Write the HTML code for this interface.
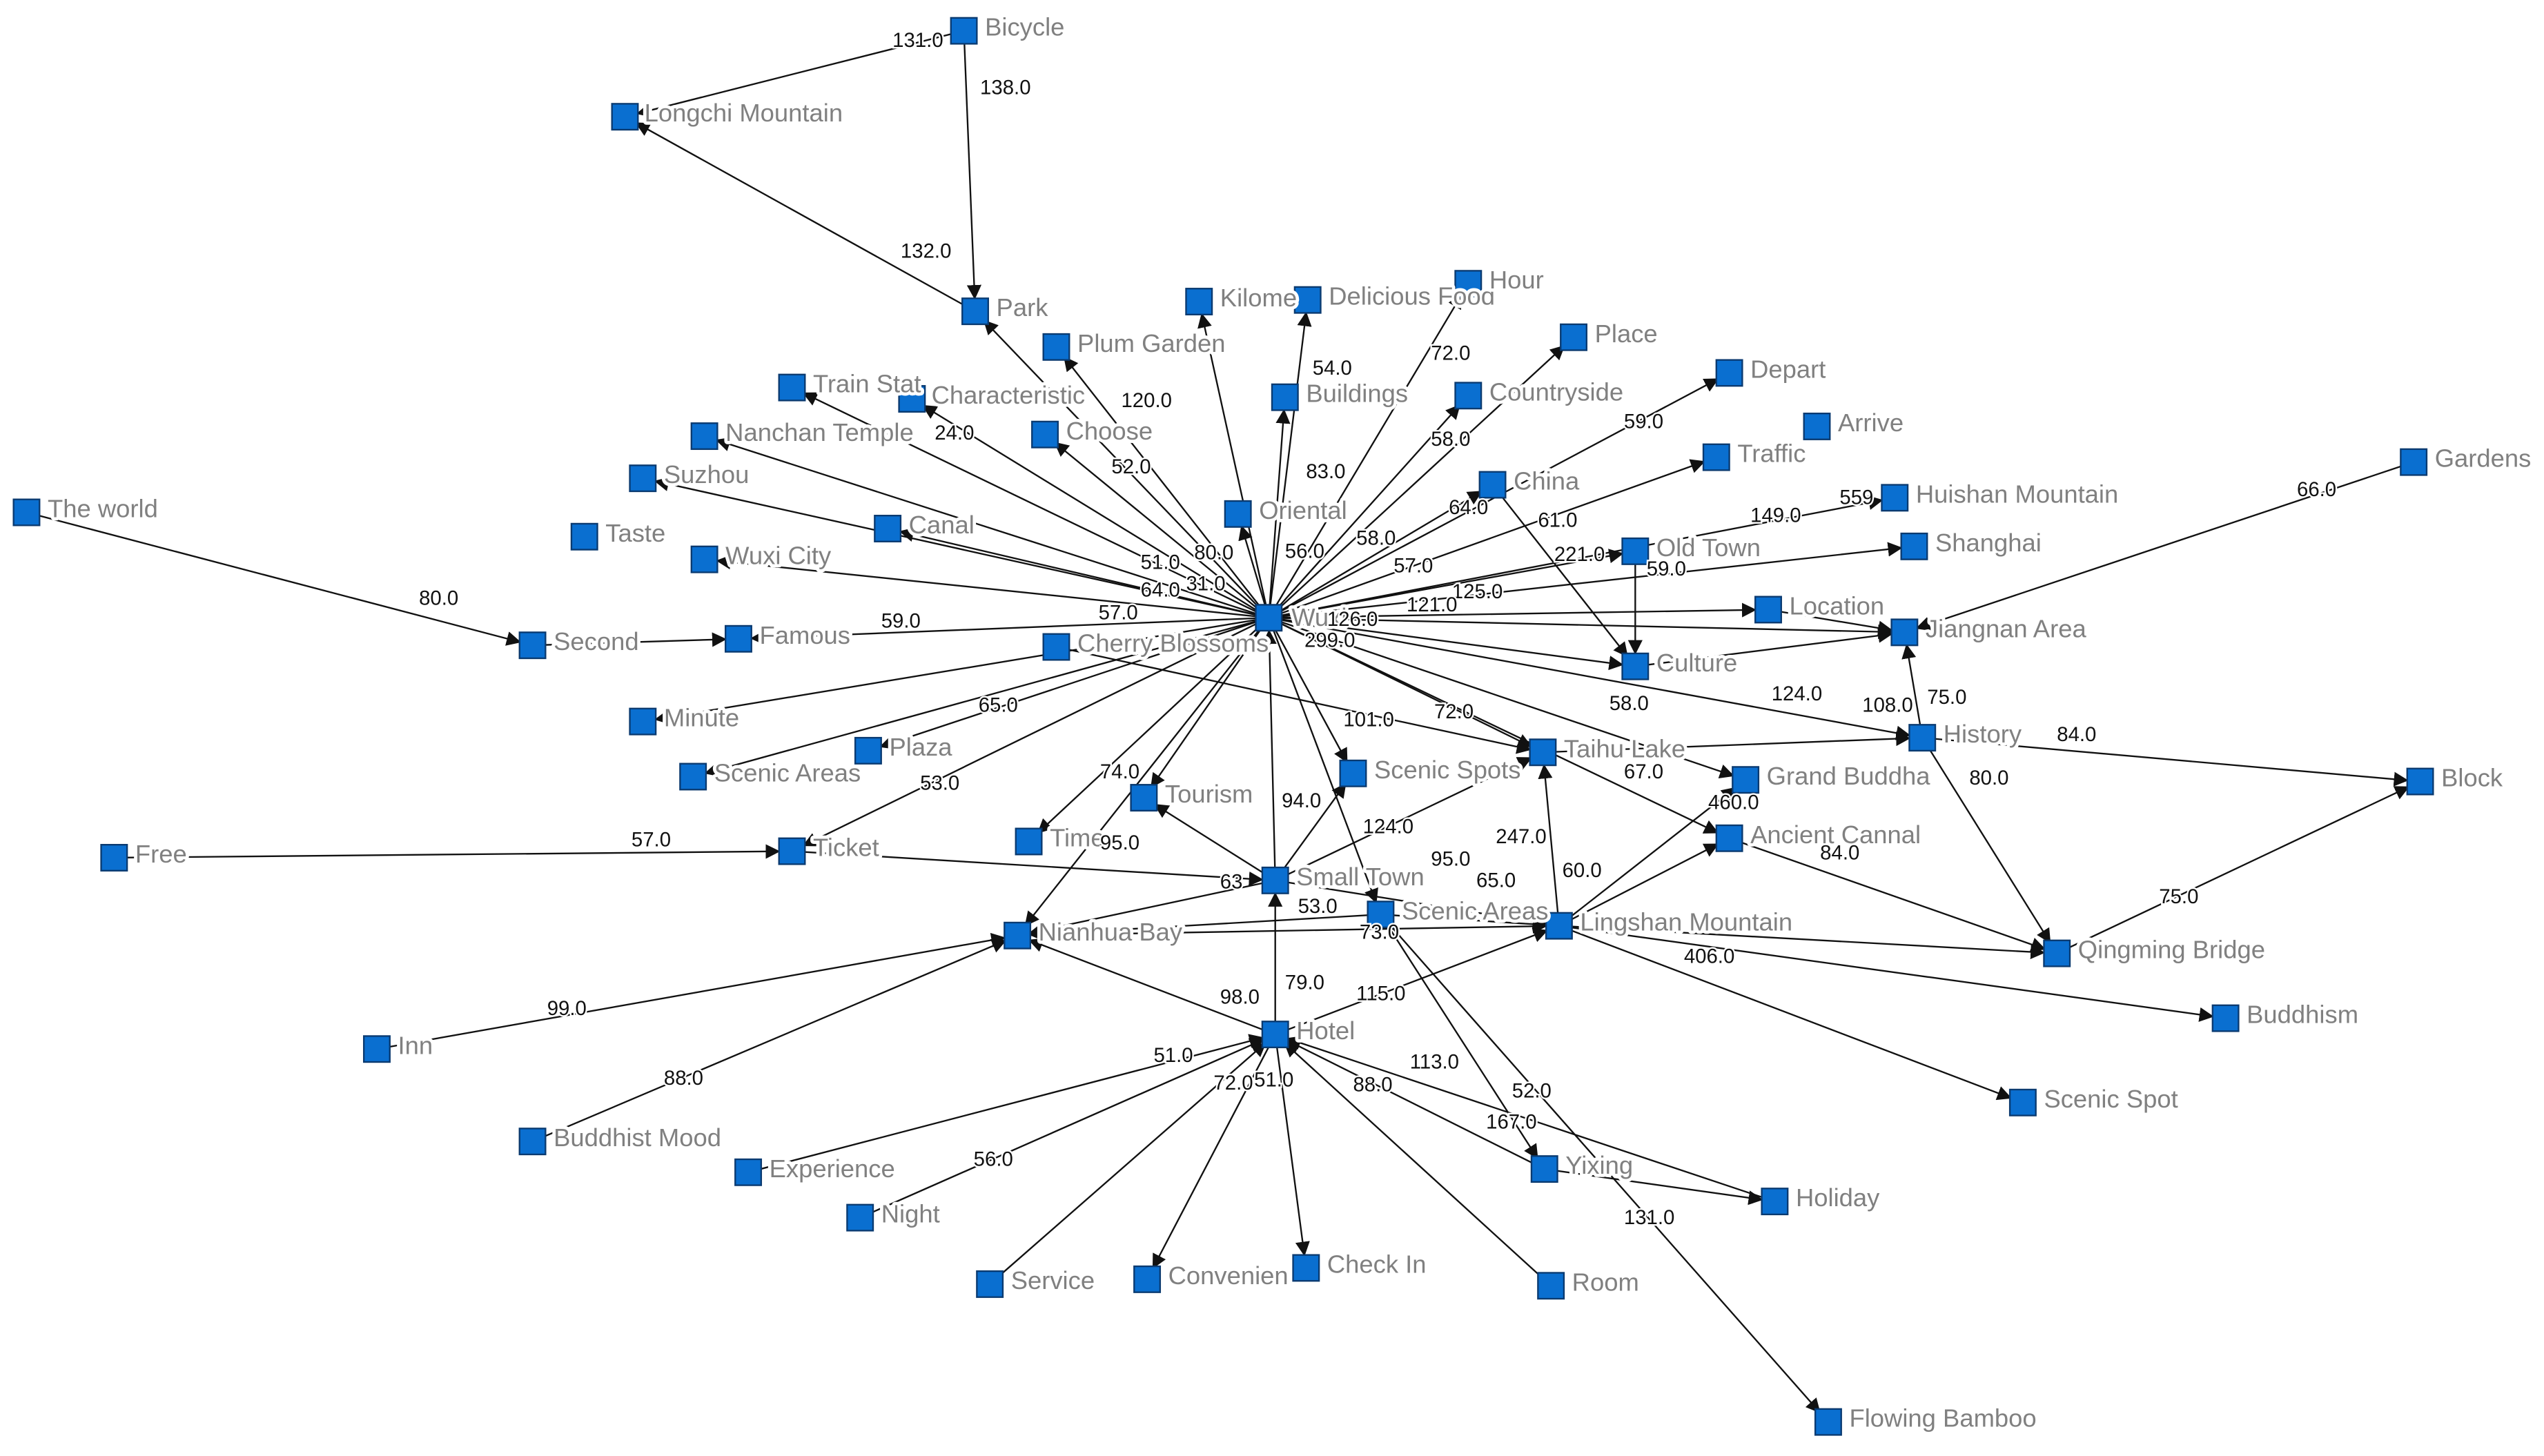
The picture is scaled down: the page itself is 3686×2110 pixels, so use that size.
<!DOCTYPE html>
<html><head><meta charset="utf-8"><style>
html,body{margin:0;padding:0;background:#fff;}
svg{display:block}
.n{fill:#0a6fd0;stroke:#0a3a70;stroke-width:1}
.t{font-family:"Liberation Sans",sans-serif;font-size:15.5px;fill:#808080;paint-order:stroke;stroke:#fff;stroke-width:4px;stroke-linejoin:round}
.e{font-family:"Liberation Sans",sans-serif;font-size:12.5px;fill:#111;paint-order:stroke;stroke:#fff;stroke-width:2px}
line{stroke:#111;stroke-width:1}
</style></head><body>
<svg width="3686" height="2110" viewBox="0 0 1568 898" xmlns="http://www.w3.org/2000/svg">
<defs><marker id="a" viewBox="0 0 10 10" refX="18" refY="5" markerWidth="9" markerHeight="9" orient="auto" markerUnits="userSpaceOnUse"><path d="M0,0L10,5L0,10z" fill="#111"/></marker></defs>
<g marker-end="url(#a)">
<line x1="594" y1="19" x2="385" y2="72"/>
<line x1="594" y1="19" x2="601" y2="192"/>
<line x1="601" y1="192" x2="385" y2="72"/>
<line x1="782" y1="381" x2="601" y2="192"/>
<line x1="782" y1="381" x2="739" y2="186"/>
<line x1="782" y1="381" x2="806" y2="185"/>
<line x1="782" y1="381" x2="905" y2="175"/>
<line x1="782" y1="381" x2="651" y2="214"/>
<line x1="782" y1="381" x2="970" y2="208"/>
<line x1="782" y1="381" x2="488" y2="239"/>
<line x1="782" y1="381" x2="562" y2="246"/>
<line x1="782" y1="381" x2="792" y2="245"/>
<line x1="782" y1="381" x2="905" y2="244"/>
<line x1="782" y1="381" x2="1066" y2="230"/>
<line x1="782" y1="381" x2="434" y2="269"/>
<line x1="782" y1="381" x2="644" y2="268"/>
<line x1="782" y1="381" x2="1058" y2="282"/>
<line x1="782" y1="381" x2="396" y2="295"/>
<line x1="782" y1="381" x2="920" y2="299"/>
<line x1="782" y1="381" x2="1168" y2="307"/>
<line x1="782" y1="381" x2="547" y2="326"/>
<line x1="782" y1="381" x2="763" y2="317"/>
<line x1="782" y1="381" x2="1180" y2="337"/>
<line x1="782" y1="381" x2="434" y2="345"/>
<line x1="782" y1="381" x2="1008" y2="340"/>
<line x1="782" y1="381" x2="1090" y2="376"/>
<line x1="782" y1="381" x2="1174" y2="390"/>
<line x1="782" y1="381" x2="455" y2="394"/>
<line x1="782" y1="381" x2="1008" y2="411"/>
<line x1="782" y1="381" x2="396" y2="445"/>
<line x1="782" y1="381" x2="1185" y2="455"/>
<line x1="782" y1="381" x2="535" y2="463"/>
<line x1="782" y1="381" x2="951" y2="464"/>
<line x1="782" y1="381" x2="427" y2="479"/>
<line x1="782" y1="381" x2="1076" y2="481"/>
<line x1="782" y1="381" x2="705" y2="492"/>
<line x1="782" y1="381" x2="1066" y2="517"/>
<line x1="782" y1="381" x2="634" y2="519"/>
<line x1="782" y1="381" x2="488" y2="525"/>
<line x1="782" y1="381" x2="851" y2="564"/>
<line x1="782" y1="381" x2="627" y2="577"/>
<line x1="782" y1="381" x2="834" y2="477"/>
<line x1="786" y1="543" x2="782" y2="381"/>
<line x1="16" y1="316" x2="328" y2="398"/>
<line x1="328" y1="398" x2="455" y2="394"/>
<line x1="70" y1="529" x2="488" y2="525"/>
<line x1="488" y1="525" x2="786" y2="543"/>
<line x1="651" y1="399" x2="951" y2="464"/>
<line x1="1008" y1="340" x2="1008" y2="411"/>
<line x1="920" y1="299" x2="1008" y2="411"/>
<line x1="1008" y1="411" x2="1174" y2="390"/>
<line x1="1090" y1="376" x2="1174" y2="390"/>
<line x1="1488" y1="285" x2="1174" y2="390"/>
<line x1="1185" y1="455" x2="1174" y2="390"/>
<line x1="1185" y1="455" x2="1492" y2="482"/>
<line x1="1185" y1="455" x2="1268" y2="588"/>
<line x1="1268" y1="588" x2="1492" y2="482"/>
<line x1="951" y1="464" x2="1185" y2="455"/>
<line x1="1066" y1="517" x2="1268" y2="588"/>
<line x1="786" y1="543" x2="705" y2="492"/>
<line x1="786" y1="543" x2="834" y2="477"/>
<line x1="786" y1="543" x2="951" y2="464"/>
<line x1="786" y1="543" x2="961" y2="571"/>
<line x1="786" y1="543" x2="627" y2="577"/>
<line x1="851" y1="564" x2="961" y2="571"/>
<line x1="851" y1="564" x2="627" y2="577"/>
<line x1="961" y1="571" x2="951" y2="464"/>
<line x1="961" y1="571" x2="1066" y2="517"/>
<line x1="961" y1="571" x2="1076" y2="481"/>
<line x1="961" y1="571" x2="1268" y2="588"/>
<line x1="961" y1="571" x2="1372" y2="628"/>
<line x1="961" y1="571" x2="1247" y2="680"/>
<line x1="627" y1="577" x2="961" y2="571"/>
<line x1="786" y1="638" x2="786" y2="543"/>
<line x1="786" y1="638" x2="627" y2="577"/>
<line x1="786" y1="638" x2="961" y2="571"/>
<line x1="232" y1="647" x2="627" y2="577"/>
<line x1="328" y1="704" x2="627" y2="577"/>
<line x1="461" y1="723" x2="786" y2="638"/>
<line x1="530" y1="751" x2="786" y2="638"/>
<line x1="610" y1="792" x2="786" y2="638"/>
<line x1="786" y1="638" x2="707" y2="789"/>
<line x1="786" y1="638" x2="805" y2="782"/>
<line x1="956" y1="793" x2="786" y2="638"/>
<line x1="952" y1="721" x2="786" y2="638"/>
<line x1="1094" y1="741" x2="786" y2="638"/>
<line x1="952" y1="721" x2="1094" y2="741"/>
<line x1="851" y1="564" x2="1127" y2="877"/>
<line x1="851" y1="564" x2="952" y2="721"/>
</g>
<g>
<rect class="n" x="586" y="11" width="16" height="16"/><rect class="n" x="377" y="64" width="16" height="16"/>
<rect class="n" x="593" y="184" width="16" height="16"/><rect class="n" x="731" y="178" width="16" height="16"/>
<rect class="n" x="798" y="177" width="16" height="16"/><rect class="n" x="897" y="167" width="16" height="16"/>
<rect class="n" x="643" y="206" width="16" height="16"/><rect class="n" x="962" y="200" width="16" height="16"/>
<rect class="n" x="480" y="231" width="16" height="16"/><rect class="n" x="554" y="238" width="16" height="16"/>
<rect class="n" x="784" y="237" width="16" height="16"/><rect class="n" x="897" y="236" width="16" height="16"/>
<rect class="n" x="1058" y="222" width="16" height="16"/><rect class="n" x="426" y="261" width="16" height="16"/>
<rect class="n" x="636" y="260" width="16" height="16"/><rect class="n" x="1112" y="255" width="16" height="16"/>
<rect class="n" x="1050" y="274" width="16" height="16"/><rect class="n" x="1480" y="277" width="16" height="16"/>
<rect class="n" x="388" y="287" width="16" height="16"/><rect class="n" x="912" y="291" width="16" height="16"/>
<rect class="n" x="1160" y="299" width="16" height="16"/><rect class="n" x="8" y="308" width="16" height="16"/>
<rect class="n" x="539" y="318" width="16" height="16"/><rect class="n" x="755" y="309" width="16" height="16"/>
<rect class="n" x="352" y="323" width="16" height="16"/><rect class="n" x="1172" y="329" width="16" height="16"/>
<rect class="n" x="426" y="337" width="16" height="16"/><rect class="n" x="1000" y="332" width="16" height="16"/>
<rect class="n" x="774" y="373" width="16" height="16"/><rect class="n" x="1082" y="368" width="16" height="16"/>
<rect class="n" x="1166" y="382" width="16" height="16"/><rect class="n" x="320" y="390" width="16" height="16"/>
<rect class="n" x="447" y="386" width="16" height="16"/><rect class="n" x="643" y="391" width="16" height="16"/>
<rect class="n" x="1000" y="403" width="16" height="16"/><rect class="n" x="388" y="437" width="16" height="16"/>
<rect class="n" x="1177" y="447" width="16" height="16"/><rect class="n" x="527" y="455" width="16" height="16"/>
<rect class="n" x="943" y="456" width="16" height="16"/><rect class="n" x="419" y="471" width="16" height="16"/>
<rect class="n" x="826" y="469" width="16" height="16"/><rect class="n" x="1068" y="473" width="16" height="16"/>
<rect class="n" x="1484" y="474" width="16" height="16"/><rect class="n" x="697" y="484" width="16" height="16"/>
<rect class="n" x="1058" y="509" width="16" height="16"/><rect class="n" x="626" y="511" width="16" height="16"/>
<rect class="n" x="62" y="521" width="16" height="16"/><rect class="n" x="480" y="517" width="16" height="16"/>
<rect class="n" x="778" y="535" width="16" height="16"/><rect class="n" x="843" y="556" width="16" height="16"/>
<rect class="n" x="953" y="563" width="16" height="16"/><rect class="n" x="619" y="569" width="16" height="16"/>
<rect class="n" x="1260" y="580" width="16" height="16"/><rect class="n" x="1364" y="620" width="16" height="16"/>
<rect class="n" x="778" y="630" width="16" height="16"/><rect class="n" x="224" y="639" width="16" height="16"/>
<rect class="n" x="1239" y="672" width="16" height="16"/><rect class="n" x="320" y="696" width="16" height="16"/>
<rect class="n" x="453" y="715" width="16" height="16"/><rect class="n" x="944" y="713" width="16" height="16"/>
<rect class="n" x="1086" y="733" width="16" height="16"/><rect class="n" x="522" y="743" width="16" height="16"/>
<rect class="n" x="602" y="784" width="16" height="16"/><rect class="n" x="699" y="781" width="16" height="16"/>
<rect class="n" x="797" y="774" width="16" height="16"/><rect class="n" x="948" y="785" width="16" height="16"/>
<rect class="n" x="1119" y="869" width="16" height="16"/>
</g>
<g class="t">
<text x="607" y="22">Bicycle</text><text x="397" y="75">Longchi Mountain</text>
<text x="614" y="195">Park</text><text x="752" y="189">Kilome</text>
<text x="819" y="188">Delicious Food</text><text x="918" y="178">Hour</text>
<text x="664" y="217">Plum Garden</text><text x="983" y="211">Place</text>
<text x="501" y="242">Train Stat</text><text x="574" y="249">Characteristic</text>
<text x="805" y="248">Buildings</text><text x="918" y="247">Countryside</text>
<text x="1079" y="233">Depart</text><text x="447" y="272">Nanchan Temple</text>
<text x="657" y="271">Choose</text><text x="1133" y="266">Arrive</text>
<text x="1071" y="285">Traffic</text><text x="1501" y="288">Gardens</text>
<text x="409" y="298">Suzhou</text><text x="933" y="302">China</text>
<text x="1181" y="310">Huishan Mountain</text><text x="29" y="319">The world</text>
<text x="560" y="329">Canal</text><text x="776" y="320">Oriental</text>
<text x="373" y="334">Taste</text><text x="1193" y="340">Shanghai</text>
<text x="447" y="348">Wuxi City</text><text x="1021" y="343">Old Town</text>
<text x="796" y="386">Wuxi</text><text x="1103" y="379">Location</text>
<text x="1187" y="393">Jiangnan Area</text><text x="341" y="401">Second</text>
<text x="468" y="397">Famous</text><text x="664" y="402">Cherry Blossoms</text>
<text x="1021" y="414">Culture</text><text x="409" y="448">Minute</text>
<text x="1198" y="458">History</text><text x="548" y="466">Plaza</text>
<text x="964" y="467">Taihu Lake</text><text x="440" y="482">Scenic Areas</text>
<text x="847" y="480">Scenic Spots</text><text x="1089" y="484">Grand Buddha</text>
<text x="1505" y="485">Block</text><text x="718" y="495">Tourism</text>
<text x="1079" y="520">Ancient Cannal</text><text x="647" y="522">Time</text>
<text x="83" y="532">Free</text><text x="501" y="528">Ticket</text>
<text x="799" y="546">Small Town</text><text x="864" y="567">Scenic Areas</text>
<text x="974" y="574">Lingshan Mountain</text><text x="640" y="580">Nianhua Bay</text>
<text x="1281" y="591">Qingming Bridge</text><text x="1385" y="631">Buddhism</text>
<text x="799" y="641">Hotel</text><text x="245" y="650">Inn</text>
<text x="1260" y="683">Scenic Spot</text><text x="341" y="707">Buddhist Mood</text>
<text x="474" y="726">Experience</text><text x="965" y="724">Yixing</text>
<text x="1107" y="744">Holiday</text><text x="543" y="754">Night</text>
<text x="623" y="795">Service</text><text x="720" y="792">Convenien</text>
<text x="818" y="785">Check In</text><text x="969" y="796">Room</text>
<text x="1140" y="880">Flowing Bamboo</text>
</g>
<g class="e">
<text x="550" y="29">131.0</text><text x="604" y="58">138.0</text><text x="555" y="159">132.0</text>
<text x="691" y="251">120.0</text><text x="809" y="231">54.0</text><text x="882" y="222">72.0</text>
<text x="576" y="271">24.0</text><text x="685" y="292">52.0</text><text x="805" y="295">83.0</text>
<text x="882" y="275">58.0</text><text x="1001" y="264">59.0</text><text x="893" y="317">64.0</text>
<text x="948" y="325">61.0</text><text x="1079" y="322">149.0</text><text x="1134" y="311">559</text>
<text x="836" y="336">58.0</text><text x="792" y="344">56.0</text><text x="703" y="351">51.0</text>
<text x="736" y="345">80.0</text><text x="703" y="368">64.0</text><text x="731" y="364">31.0</text>
<text x="859" y="353">57.0</text><text x="958" y="346">221.0</text><text x="1015" y="355">59.0</text>
<text x="895" y="369">125.0</text><text x="867" y="377">121.0</text><text x="818" y="386">126.0</text>
<text x="804" y="399">299.0</text><text x="677" y="382">57.0</text><text x="543" y="387">59.0</text>
<text x="258" y="373">80.0</text><text x="603" y="439">65.0</text><text x="828" y="448">101.0</text>
<text x="884" y="443">72.0</text><text x="992" y="438">58.0</text><text x="1092" y="432">124.0</text>
<text x="1148" y="439">108.0</text><text x="1188" y="434">75.0</text><text x="1268" y="457">84.0</text>
<text x="1214" y="484">80.0</text><text x="1416" y="306">66.0</text><text x="1001" y="480">67.0</text>
<text x="1053" y="499">460.0</text><text x="1122" y="530">84.0</text><text x="1331" y="557">75.0</text>
<text x="678" y="480">74.0</text><text x="567" y="487">53.0</text><text x="790" y="498">94.0</text>
<text x="840" y="514">124.0</text><text x="922" y="520">247.0</text><text x="678" y="524">95.0</text>
<text x="389" y="522">57.0</text><text x="882" y="534">95.0</text><text x="910" y="547">65.0</text>
<text x="963" y="541">60.0</text><text x="752" y="548">63</text><text x="800" y="563">53.0</text>
<text x="838" y="579">73.0</text><text x="1038" y="594">406.0</text><text x="792" y="610">79.0</text>
<text x="752" y="619">98.0</text><text x="836" y="617">115.0</text><text x="337" y="626">99.0</text>
<text x="409" y="669">88.0</text><text x="711" y="655">51.0</text><text x="869" y="659">113.0</text>
<text x="748" y="672">72.0</text><text x="773" y="670">51.0</text><text x="834" y="673">88.0</text>
<text x="932" y="677">52.0</text><text x="916" y="696">167.0</text><text x="600" y="719">56.0</text>
<text x="1001" y="755">131.0</text>
</g>
</svg>
</body></html>
